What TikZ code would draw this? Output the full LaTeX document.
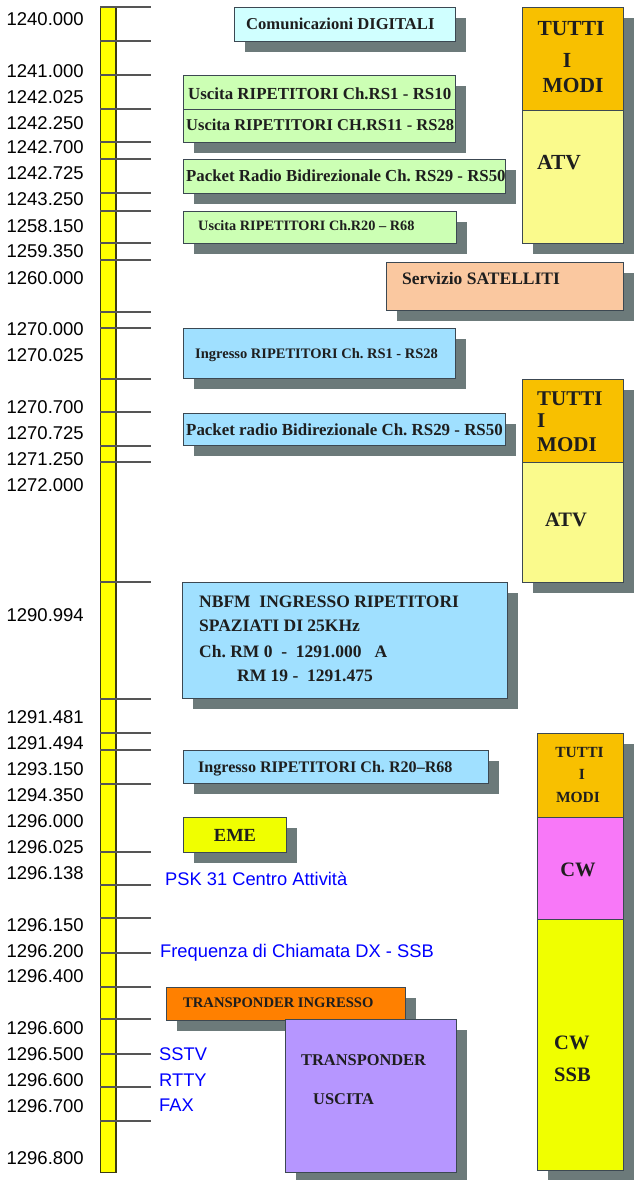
\documentclass[tikz,border=0pt]{standalone}
\usepackage{fontspec}
\setmainfont{Liberation Sans}
\newfontfamily\boxserif{Liberation Serif}
\usetikzlibrary{backgrounds}
\frenchspacing
\definecolor{shadowc}{RGB}{108,122,122}
\definecolor{boxline}{RGB}{60,72,82}
\definecolor{txtc}{RGB}{30,30,30}
\definecolor{noteblue}{RGB}{0,0,255}
\definecolor{barfill}{RGB}{255,255,0}
\definecolor{barline}{RGB}{60,60,20}
\definecolor{tickc}{RGB}{85,85,85}
\definecolor{cyanl}{RGB}{208,255,255}
\definecolor{greenl}{RGB}{204,255,180}
\definecolor{peach}{RGB}{250,200,160}
\definecolor{modiorange}{RGB}{248,192,0}
\definecolor{atvyellow}{RGB}{250,250,140}
\definecolor{bluel}{RGB}{160,224,255}
\definecolor{cwmag}{RGB}{248,120,248}
\definecolor{ssbyellow}{RGB}{240,255,0}
\definecolor{emeyellow}{RGB}{240,255,0}
\definecolor{tinorange}{RGB}{255,128,0}
\definecolor{tuslav}{RGB}{182,150,255}
\newcommand\fs[1]{\boxserif\bfseries\fontsize{#1}{#1}\selectfont\frenchspacing}
\newcommand\shadowrect[4]{\begin{pgfonlayer}{background}\fill[shadowc] (#1+11,#2+11) rectangle (#3+11,#4+11);\end{pgfonlayer}}
\newcommand\bandrect[6]{\node[bandbox, fill=#6, minimum width={(#4)-(#2)}, minimum height={(#5)-(#3)}] (#1) at (#2,#3) {};}
\tikzset{
  bandbox/.style={draw=boxline, line width=0.9pt, inner sep=0pt, outer sep=0pt, anchor=north west},
  freq/.style={anchor=east, inner sep=0pt, text height=13.25pt, text depth=0pt, font=\fontsize{18.5}{20}\selectfont},
  note/.style={anchor=west, inner sep=0pt, text=noteblue, text height=13.1pt, text depth=0pt, font=\fontsize{18.3}{20}\selectfont},
  btxt/.style={anchor=west, inner sep=0pt, text=txtc, font=\fs{#1}, text height={0.662*#1}, text depth=0pt},
  ctxt/.style={anchor=center, inner sep=0pt, text=txtc, font=\fs{#1}, text height={0.662*#1}, text depth=0pt},
  tick/.style={draw=tickc, line width=1.3pt},
}
\begin{document}
\begin{tikzpicture}[x=1pt,y=-1pt]
\useasboundingbox (0,0) rectangle (634,1180);

% frequency bar
\node[draw=barline, fill=barfill, line width=0.8pt, inner sep=0pt, outer sep=0pt, anchor=north west,
      minimum width=16, minimum height=1165] (bar) at (100,7) {};
\draw[barline, line width=1.6pt] (bar.north east) -- (bar.south east);
\foreach \y in {7,41,75,109,142,159,193,211,243,260,312,328,379,412,446,462,582,699,733,750,784,852,885,918,953,987,1019,1054,1087,1121}
  \draw[tick] (100,\y) -- (151,\y);

% frequency labels
\foreach \y/\t [count=\i] in {19/1240.000,71/1241.000,97/1242.025,123/1242.250,147/1242.700,173/1242.725,199/1243.250,226/1258.150,251/1259.350,278/1260.000,329/1270.000,355/1270.025,407/1270.700,433/1270.725,459/1271.250,485/1272.000,615/1290.994,717/1291.481,743/1291.494,769/1293.150,795/1294.350,821/1296.000,847/1296.025,873/1296.138,925/1296.150,951/1296.200,976/1296.400,1028/1296.600,1054/1296.500,1080/1296.600,1106/1296.700,1158/1296.800}
  \node[freq] (f\i) at (84,\y) {\t};

% shadows
\shadowrect{234}{7}{455}{41}
\shadowrect{183}{75}{455}{109}
\shadowrect{183}{109}{455}{142}
\shadowrect{183}{159}{505}{193}
\shadowrect{183}{211}{456}{243}
\shadowrect{386}{262}{623}{310}
\shadowrect{522}{7}{623}{243}
\shadowrect{183}{328}{455}{378}
\shadowrect{183}{413}{505}{445}
\shadowrect{522}{379}{623}{582}
\shadowrect{182}{582}{507}{698}
\shadowrect{183}{750}{488}{783}
\shadowrect{183}{817}{286}{852}
\shadowrect{537}{733}{623}{1170}
\shadowrect{166}{987}{405}{1020}
\shadowrect{285}{1019}{456}{1172}

% boxes
\bandrect{digi}{234}{7}{455}{41}{cyanl}
\bandrect{us1}{183}{75}{455}{109}{greenl}
\bandrect{us2}{183}{109}{455}{142}{greenl}
\bandrect{pr1}{183}{159}{505}{193}{greenl}
\bandrect{us3}{183}{211}{456}{243}{greenl}
\bandrect{sat}{386}{262}{623}{310}{peach}
\bandrect{moda}{522}{7}{623}{110}{modiorange}
\bandrect{atva}{522}{110}{623}{243}{atvyellow}
\bandrect{ing1}{183}{328}{455}{378}{bluel}
\bandrect{pr2}{183}{413}{505}{445}{bluel}
\bandrect{modb}{522}{379}{623}{462}{modiorange}
\bandrect{atvb}{522}{462}{623}{582}{atvyellow}
\bandrect{nbfm}{182}{582}{507}{698}{bluel}
\bandrect{ing2}{183}{750}{488}{783}{bluel}
\bandrect{eme}{183}{817}{286}{852}{emeyellow}
\bandrect{modc}{537}{733}{623}{817}{modiorange}
\bandrect{cw}{537}{817}{623}{919}{cwmag}
\bandrect{ssb}{537}{919}{623}{1170}{ssbyellow}
\bandrect{tin}{166}{987}{405}{1020}{tinorange}
\bandrect{tus}{285}{1019}{456}{1172}{tuslav}

% box texts
\node[btxt=16.6] (t-digi) at (246,24) {Comunicazioni DIGITALI};
\node[btxt=16.9] (t-us1) at (188,94) {Uscita RIPETITORI Ch.RS1 - RS10};
\node[btxt=16.5] (t-us2) at (186,125) {Uscita RIPETITORI CH.RS11 - RS28};
\node[btxt=16.8] (t-pr1) at (186,176) {Packet Radio Bidirezionale Ch. RS29 - RS50};
\node[btxt=14.3] (t-us3) at (198,226) {Uscita RIPETITORI Ch.R20 – R68};
\node[btxt=17.5] (t-sat) at (402,279) {Servizio SATELLITI};
\node[btxt=14.5] (t-ing1) at (195,354) {Ingresso RIPETITORI Ch. RS1 - RS28};
\node[btxt=16.9] (t-pr2) at (186,430) {Packet radio Bidirezionale Ch. RS29 - RS50};
\node[btxt=17.5] (t-nb1) at (199,602) {NBFM\ \ INGRESSO RIPETITORI};
\node[btxt=17.5] (t-nb2) at (199,626) {SPAZIATI DI 25KHz};
\node[btxt=17.5] (t-nb3) at (199,652) {Ch. RM 0\ \ -\ \ 1291.000\ \ \ A};
\node[btxt=17.5] (t-nb4) at (237,676) {RM 19 -\ \ 1291.475};
\node[btxt=16.1] (t-ing2) at (198,767) {Ingresso RIPETITORI Ch. R20–R68};
\node[ctxt=18.5] (t-eme) at (235,835) {EME};
\node[btxt=14.6] (t-tin) at (183,1003) {TRANSPONDER INGRESSO};
\node[btxt=16.4] (t-tus1) at (301,1060) {TRANSPONDER};
\node[btxt=16.4] (t-tus2) at (313,1099) {USCITA};

% right columns
\node[ctxt=21.5] (t-ma1) at (571,28) {TUTTI};
\node[ctxt=21.5] (t-ma2) at (567,60) {I};
\node[ctxt=21.5] (t-ma3) at (573,85) {MODI};
\node[btxt=21.5] (t-atva) at (537,162) {ATV};
\node[btxt=21] (t-mb1) at (537,399) {TUTTI};
\node[btxt=21] (t-mb2) at (537,421) {I};
\node[btxt=21] (t-mb3) at (537,445) {MODI};
\node[btxt=20.5] (t-atvb) at (545,520) {ATV};
\node[ctxt=15.5] (t-mc1) at (579.5,752) {TUTTI};
\node[ctxt=15.5] (t-mc2) at (582,774) {I};
\node[ctxt=15.5] (t-mc3) at (578,797) {MODI};
\node[ctxt=20.5] (t-cw) at (578,870) {CW};
\node[btxt=20.5] (t-cw2) at (554,1043) {CW};
\node[btxt=20.5] (t-ssb) at (554,1075) {SSB};

% blue notes
\node[note] (n-psk) at (165,879) {PSK 31 Centro Attività};
\node[note] (n-dx) at (160,951) {Frequenza di Chiamata DX - SSB};
\node[note] (n-sstv) at (159,1054) {SSTV};
\node[note] (n-rtty) at (159,1080) {RTTY};
\node[note] (n-fax) at (159,1105) {FAX};
\end{tikzpicture}
\end{document}
